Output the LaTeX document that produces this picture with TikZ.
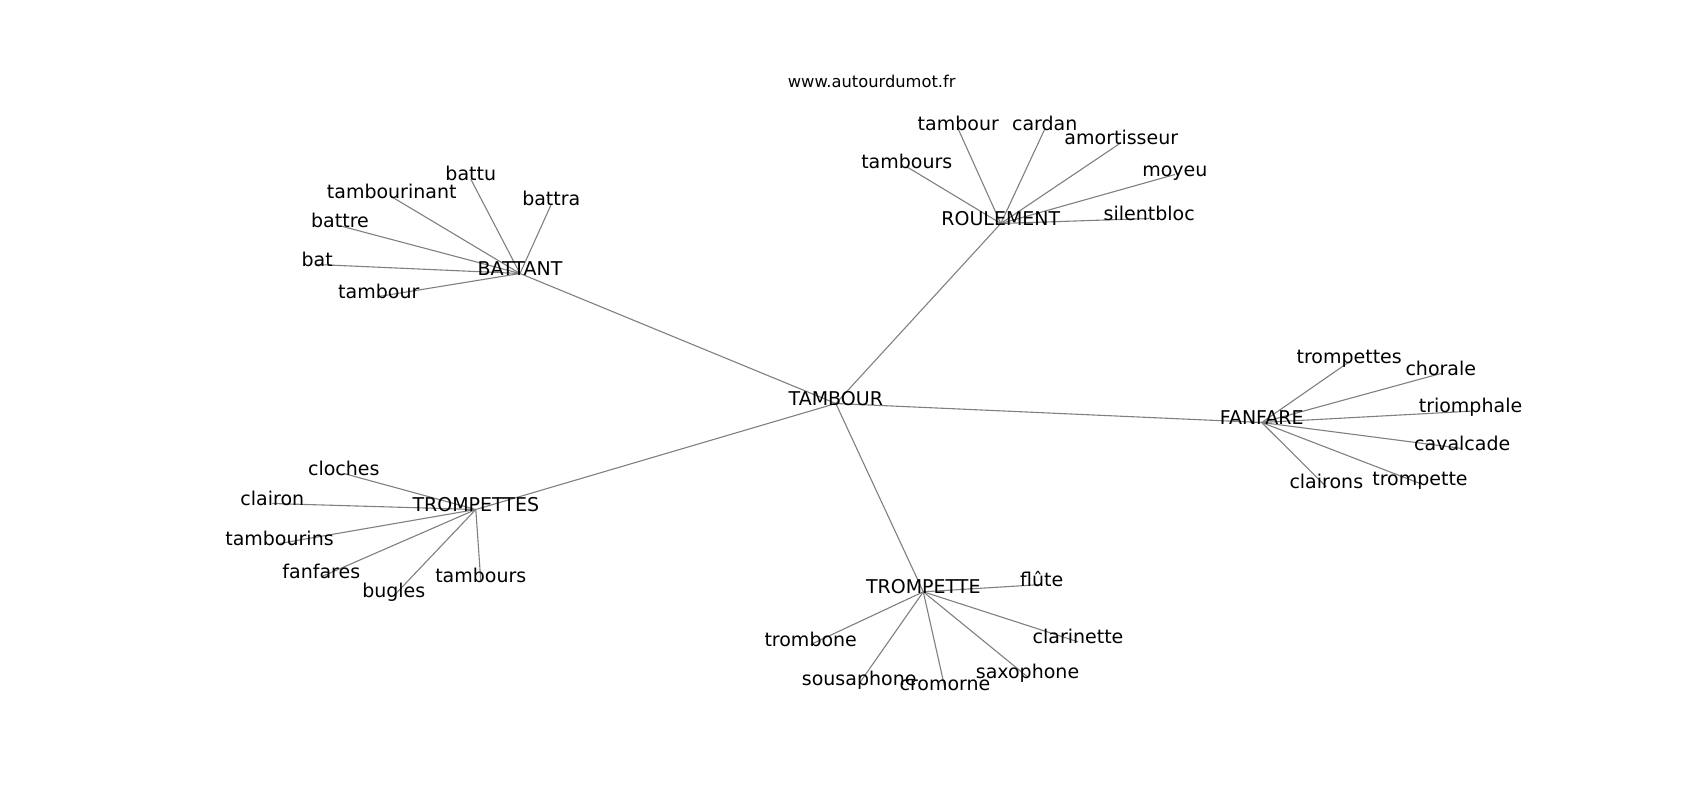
\documentclass[tikz,border=0pt]{standalone}
\usepackage{fontspec}
\setmainfont{DejaVu Sans}
\pgfdeclarelayer{bg}
\pgfsetlayers{bg,main}
\tikzset{
  lbl/.style={inner sep=0pt, text height=0.66em, text depth=0.34em, anchor=center, font=\fontsize{19}{22}\selectfont},
  ttl/.style={inner sep=0pt, text height=0.66em, text depth=0.34em, anchor=center, font=\fontsize{16.3}{19}\selectfont},
  edge/.style={draw=black!50, line width=1.1pt}
}
\begin{document}
\begin{tikzpicture}[x=1pt,y=-1pt]
\useasboundingbox (0,-3.5) rectangle (1700,796.5);
\node[ttl] (title) at (871.7,82.5) {www.autourdumot.fr};
% hubs
\node[lbl] (tam) at (835.8,400) {TAMBOUR};
\node[lbl] (bat) at (520,270) {BATTANT};
\node[lbl] (rou) at (1000.8,220) {ROULEMENT};
\node[lbl] (fan) at (1261.7,419) {FANFARE};
\node[lbl] (tps) at (475.8,506) {TROMPETTES};
\node[lbl] (tpe) at (923.3,588.3) {TROMPETTE};
% BATTANT leaves
\node[lbl] (b1) at (470.8,175.7) {battu};
\node[lbl] (b2) at (391.7,193.3) {tambourinant};
\node[lbl] (b3) at (551.3,200.7) {battra};
\node[lbl] (b4) at (340,222.3) {battre};
\node[lbl] (b5) at (317.2,261) {bat};
\node[lbl] (b6) at (378.8,293) {tambour};
% ROULEMENT leaves
\node[lbl] (r1) at (958.3,125.7) {tambour};
\node[lbl] (r2) at (1044.7,125.7) {cardan};
\node[lbl] (r3) at (1121.3,139) {amortisseur};
\node[lbl] (r4) at (1174.9,171) {moyeu};
\node[lbl] (r5) at (1149.2,215) {silentbloc};
\node[lbl] (r6) at (906.8,163.3) {tambours};
% FANFARE leaves
\node[lbl] (f1) at (1349.2,358.3) {trompettes};
\node[lbl] (f2) at (1440.8,370) {chorale};
\node[lbl] (f3) at (1470.5,407.7) {triomphale};
\node[lbl] (f4) at (1462.2,445) {cavalcade};
\node[lbl] (f5) at (1420,480) {trompette};
\node[lbl] (f6) at (1326.3,483.3) {clairons};
% TROMPETTES leaves
\node[lbl] (s1) at (343.8,470) {cloches};
\node[lbl] (s2) at (272.3,500) {clairon};
\node[lbl] (s3) at (279.5,540) {tambourins};
\node[lbl] (s4) at (321.3,573.3) {fanfares};
\node[lbl] (s5) at (393.8,592.3) {bugles};
\node[lbl] (s6) at (480.8,577.7) {tambours};
% TROMPETTE leaves
\node[lbl] (t1) at (1041.7,581) {flûte};
\node[lbl] (t2) at (810.7,641) {trombone};
\node[lbl] (t3) at (859.2,680) {sousaphone};
\node[lbl] (t4) at (945,685) {cromorne};
\node[lbl] (t5) at (1027.5,673.3) {saxophone};
\node[lbl] (t6) at (1078,638.3) {clarinette};
\begin{pgfonlayer}{bg}
\fill[white] (0,-3.5) rectangle (1700,796.5);
\foreach \h in {bat,rou,fan,tps,tpe} \draw[edge] (tam.center) -- (\h.center);
\foreach \l in {b1,b2,b3,b4,b5,b6} \draw[edge] (bat.center) -- (\l.center);
\foreach \l in {r1,r2,r3,r4,r5,r6} \draw[edge] (rou.center) -- (\l.center);
\foreach \l in {f1,f2,f3,f4,f5,f6} \draw[edge] (fan.center) -- (\l.center);
\foreach \l in {s1,s2,s3,s4,s5,s6} \draw[edge] (tps.center) -- (\l.center);
\foreach \l in {t1,t2,t3,t4,t5,t6} \draw[edge] (tpe.center) -- (\l.center);
\end{pgfonlayer}
\end{tikzpicture}
\end{document}
